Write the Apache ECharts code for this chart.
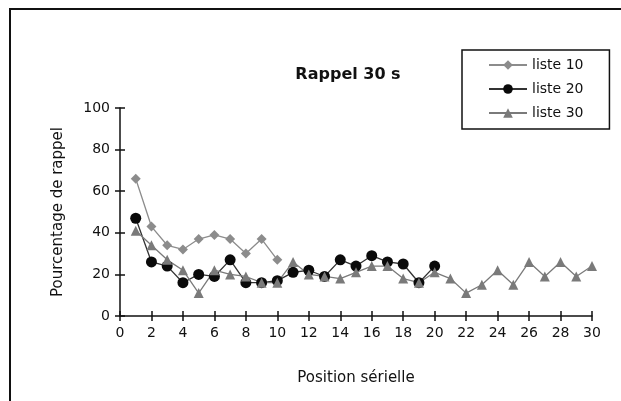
<!DOCTYPE html>
<html>
<head>
<meta charset="utf-8">
<script src="https://cdn.jsdelivr.net/npm/echarts@6/dist/echarts.min.js"></script>
<style>
  html, body { margin: 0; padding: 0; background: #fff; }
  #chart { width: 621px; height: 401px; }
  #frame { position: absolute; left: 9px; top: 8px; width: 620px; height: 400px;
           border-top: 2px solid #111; border-left: 2px solid #111; pointer-events: none; }
</style>
</head>
<body>
<div id="chart"></div>
<div id="frame"></div>
<script>
// positions sérielles
const positions = [1, 2, 3, 4, 5, 6, 7, 8, 9, 10, 11, 12, 13, 14, 15,
                   16, 17, 18, 19, 20, 21, 22, 23, 24, 25, 26, 27, 28, 29, 30];
const liste10 = [66, 43, 34, 32, 37, 39, 37, 30, 37, 27];
const liste20 = [47, 26, 24, 16, 20, 19, 27, 16, 16, 17, 21, 22, 19, 27, 24, 29, 26, 25, 16, 24];
const liste30 = [41, 34, 27, 22, 11, 22, 20, 19, 16, 16, 26, 20, 19, 18, 21,
                 24, 24, 18, 16, 21, 18, 11, 15, 22, 15, 26, 19, 26, 19, 24];

const font = "DejaVu Sans";

function pairs(vals) {
  return vals.map((v, i) => [positions[i], v]);
}

var myChart = echarts.init(document.getElementById("chart"));

// zone de tracé
var gLeft = 120, gRight = 29, gTop = 108, gBottom = 85;
var tickStyle = { color: "#111", width: 1.5 };

var option = {
  backgroundColor: "#fff",
  animation: false,
  title: {
    text: "Rappel 30 s",
    left: 343,
    textAlign: "center",
    top: 62,
    textStyle: { fontFamily: font, fontWeight: "bold", fontSize: 16, color: "#111" }
  },
  legend: {
    orient: "vertical",
    left: 462,
    top: 50,
    padding: [8, 26, 9, 26],
    borderColor: "#111",
    borderWidth: 1.5,
    itemWidth: 38,
    itemHeight: 12,
    itemGap: 10,
    textStyle: { fontFamily: font, fontSize: 14, color: "#111" },
    data: ["liste 10", "liste 20", "liste 30"]
  },
  grid: [
    { left: gLeft, right: gRight, top: gTop, bottom: gBottom },
    // bande sous l'axe x : son axe "top" donne les traits vers le haut
    { left: gLeft, right: gRight, top: 401 - gBottom, height: 40 },
    // bande à gauche de l'axe y : son axe "right" donne les traits vers la droite
    { left: gLeft - 40, width: 40, top: gTop, bottom: gBottom }
  ],
  xAxis: [
    {
      type: "value", min: 0, max: 30, interval: 2, gridIndex: 0,
      name: "Position sérielle", nameLocation: "middle", nameGap: 55,
      nameTextStyle: { fontFamily: font, fontSize: 15, color: "#111" },
      axisLine: { lineStyle: tickStyle },
      axisTick: { length: 5, lineStyle: tickStyle },
      axisLabel: { fontFamily: font, fontSize: 14, color: "#111", margin: 10 },
      splitLine: { show: false }
    },
    {
      type: "value", min: 0, max: 30, interval: 2, gridIndex: 1, position: "top",
      axisLine: { show: false, onZero: false },
      axisTick: { show: true, length: 5, lineStyle: tickStyle },
      axisLabel: { show: false },
      splitLine: { show: false }
    },
    {
      type: "value", gridIndex: 2, show: false
    }
  ],
  yAxis: [
    {
      type: "value", min: 0, max: 100, interval: 20, gridIndex: 0,
      name: "Pourcentage de rappel", nameLocation: "middle", nameGap: 54,
      nameTextStyle: { fontFamily: font, fontSize: 15, color: "#111" },
      axisLine: { show: true, lineStyle: tickStyle },
      axisTick: { show: true, length: 5, lineStyle: tickStyle },
      axisLabel: { fontFamily: font, fontSize: 14, color: "#111", margin: 10 },
      splitLine: { show: false }
    },
    {
      type: "value", gridIndex: 1, show: false
    },
    {
      type: "value", min: 0, max: 100, interval: 20, gridIndex: 2, position: "right",
      axisLine: { show: false, onZero: false },
      axisTick: { show: true, length: 5, lineStyle: tickStyle },
      axisLabel: { show: false },
      splitLine: { show: false }
    }
  ],
  series: [
    {
      name: "liste 10", type: "line", data: pairs(liste10),
      symbol: "diamond", symbolSize: 10,
      itemStyle: { color: "#8c8c8c" },
      lineStyle: { color: "#8c8c8c", width: 1.3 }
    },
    {
      name: "liste 20", type: "line", data: pairs(liste20),
      symbol: "circle", symbolSize: 11,
      itemStyle: { color: "#0a0a0a" },
      lineStyle: { color: "#333", width: 1.3 }
    },
    {
      name: "liste 30", type: "line", data: pairs(liste30),
      symbol: "triangle", symbolSize: 10,
      itemStyle: { color: "#7a7a7a" },
      lineStyle: { color: "#7a7a7a", width: 1.3 }
    }
  ]
};

myChart.setOption(option);
</script>
</body>
</html>
